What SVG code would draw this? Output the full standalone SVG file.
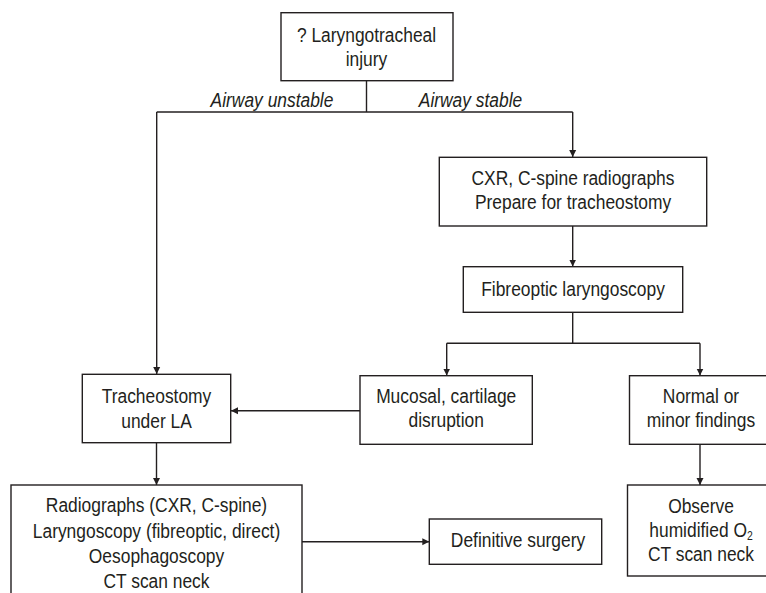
<svg xmlns="http://www.w3.org/2000/svg" width="766" height="593" viewBox="0 0 766 593">
  <style>
    .box { fill: #ffffff; stroke: #231f20; stroke-width: 1.4; }
    .wire { fill: none; stroke: #231f20; stroke-width: 1.4; }
    .lbl { font-family: "Liberation Sans", Arial, sans-serif; font-size: 20px; fill: #231f20; text-anchor: middle; }
    .branch { font-style: italic; }
    .sub { font-size: 12px; }
  </style>
  <defs>
    <marker id="arrow" viewBox="0 0 10 10" refX="10" refY="5" markerUnits="userSpaceOnUse" markerWidth="7" markerHeight="10" orient="auto">
      <path d="M0,0 L10,5 L0,10 Z" fill="#231f20"/>
    </marker>
  </defs>

  <rect width="766" height="593" fill="#ffffff"/>

  <g id="connectors">
    <path class="wire" d="M366.5,81 V112"/>
    <path class="wire" d="M156.7,112 H572.7"/>
    <path class="wire" d="M156.7,112 V374" marker-end="url(#arrow)"/>
    <path class="wire" d="M572.7,112 V157" marker-end="url(#arrow)"/>
    <path class="wire" d="M572.7,226 V266.5" marker-end="url(#arrow)"/>
    <path class="wire" d="M572.7,312.3 V343.3"/>
    <path class="wire" d="M446.7,343.3 H700"/>
    <path class="wire" d="M446.7,343.3 V375.5" marker-end="url(#arrow)"/>
    <path class="wire" d="M700,343.3 V375.5" marker-end="url(#arrow)"/>
    <path class="wire" d="M360,410.7 H231" marker-end="url(#arrow)"/>
    <path class="wire" d="M156.5,442.7 V485" marker-end="url(#arrow)"/>
    <path class="wire" d="M302,541.7 H429.3" marker-end="url(#arrow)"/>
    <path class="wire" d="M700,444.3 V485" marker-end="url(#arrow)"/>
    <text class="lbl branch" transform="translate(272,106.7) scale(0.87,1)">Airway unstable</text>
    <text class="lbl branch" transform="translate(470.5,106.7) scale(0.87,1)">Airway stable</text>
  </g>

  <g id="injury">
    <rect class="box" x="281" y="12.7" width="172" height="68"/>
    <text class="lbl" transform="translate(366.5,41.7) scale(0.87,1)"><tspan x="0">? Laryngotracheal</tspan><tspan x="0" dy="24">injury</tspan></text>
  </g>

  <g id="stable-workup">
    <rect class="box" x="439.3" y="157.3" width="267.4" height="68.7"/>
    <text class="lbl" transform="translate(573,185) scale(0.87,1)"><tspan x="0">CXR, C-spine radiographs</tspan><tspan x="0" dy="24.3">Prepare for tracheostomy</tspan></text>
  </g>

  <g id="fibreoptic">
    <rect class="box" x="463.3" y="266.7" width="219.4" height="45.6"/>
    <text class="lbl" transform="translate(573,296) scale(0.87,1)">Fibreoptic laryngoscopy</text>
  </g>

  <g id="tracheostomy">
    <rect class="box" x="82.3" y="374.3" width="148.4" height="68.4"/>
    <text class="lbl" transform="translate(156.5,403.3) scale(0.87,1)"><tspan x="0">Tracheostomy</tspan><tspan x="0" dy="25">under LA</tspan></text>
  </g>

  <g id="disruption">
    <rect class="box" x="360" y="375.7" width="172.3" height="68.6"/>
    <text class="lbl" transform="translate(446.2,403.3) scale(0.87,1)"><tspan x="0">Mucosal, cartilage</tspan><tspan x="0" dy="24">disruption</tspan></text>
  </g>

  <g id="minor-findings">
    <rect class="box" x="629.5" y="375.7" width="150" height="68.6"/>
    <text class="lbl" transform="translate(701,403.3) scale(0.87,1)"><tspan x="0">Normal or</tspan><tspan x="0" dy="24">minor findings</tspan></text>
  </g>

  <g id="investigations">
    <rect class="box" x="11" y="485" width="291" height="130"/>
    <text class="lbl" transform="translate(156.5,512.3) scale(0.87,1)"><tspan x="0">Radiographs (CXR, C-spine)</tspan><tspan x="0" dy="25.3">Laryngoscopy (fibreoptic, direct)</tspan><tspan x="0" dy="25.3">Oesophagoscopy</tspan><tspan x="0" dy="25.3">CT scan neck</tspan></text>
  </g>

  <g id="definitive-surgery">
    <rect class="box" x="429.3" y="519" width="172.4" height="45.3"/>
    <text class="lbl" transform="translate(518,546.7) scale(0.87,1)">Definitive surgery</text>
  </g>

  <g id="observe">
    <rect class="box" x="627.5" y="485" width="150" height="91"/>
    <text class="lbl" transform="translate(701,512.7) scale(0.87,1)"><tspan x="0">Observe</tspan><tspan x="0" dy="24.5">humidified O<tspan class="sub" dy="3">2</tspan></tspan></text>
    <text class="lbl" transform="translate(701,561.2) scale(0.87,1)">CT scan neck</text>
  </g>
</svg>
